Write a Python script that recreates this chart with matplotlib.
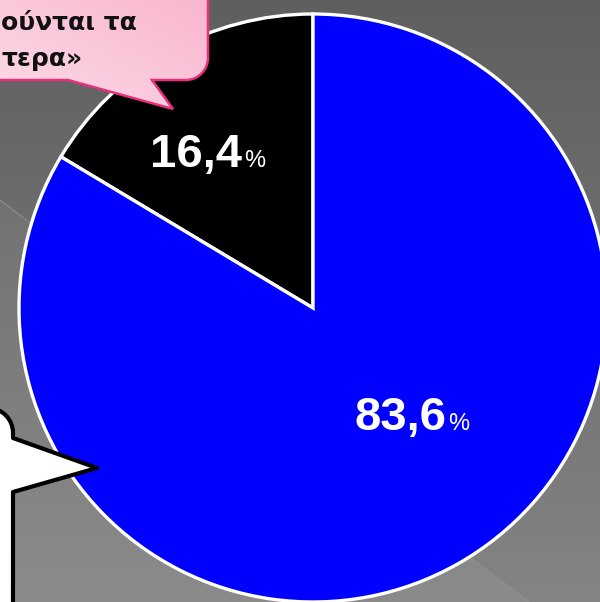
"""Pie chart 83,6 % / 16,4 % on a grey slide background with two callouts."""

import numpy as np
import matplotlib.pyplot as plt
from matplotlib.patches import PathPatch
from matplotlib.path import Path

W, H = 600, 602  # canvas in pixels

shares = [16.4, 83.6]
share_labels = ["16,4", "83,6"]
slice_colors = ["#000000", "#0000ff"]
callout_lines = ["ούνται τα", "τερα»"]

PIE_CENTER = (313, 308)  # pixel coords, y down
PIE_RADIUS = 294
LABEL_POS = [(196, 167), (400, 430)]  # baseline centres of the value labels


def px(x, y):
    """pixel (y down) -> axes data (y up)"""
    return (x, H - y)


def main():
    fig = plt.figure(figsize=(W / 100, H / 100), dpi=100)
    ax = fig.add_axes([0, 0, 1, 1])

    # background: vertical grey gradient, a bit lighter under one diagonal line
    yy, xx = np.mgrid[0:H, 0:W]  # row 0 = top of the picture
    bg = 0x5f + (0x84 - 0x5f) * yy / H
    bg = bg + 7 * (yy > 200 + 0.76 * xx)
    bg = np.clip(bg / 255, 0, 1)
    ax.imshow(np.dstack([bg, bg, bg]), extent=(0, W, 0, H), origin="upper", zorder=0)
    lx = np.array([0, W])
    ax.plot(lx, H - (200 + 0.76 * lx), color="#909090", lw=0.7, zorder=1)

    wedges, _ = ax.pie(
        shares,
        colors=slice_colors,
        startangle=90,
        counterclock=True,
        center=px(*PIE_CENTER),
        radius=PIE_RADIUS,
        wedgeprops=dict(edgecolor="white", linewidth=2.4),
        frame=True,
    )
    for w in wedges:
        w.set_zorder(2)

    for lab, pos in zip(share_labels, LABEL_POS):
        t = ax.text(*px(*pos), lab, color="white", fontsize=34, fontweight="bold",
                    family="Liberation Sans", ha="center", va="baseline", zorder=5)
        ax.annotate("%", xy=(1, 0), xycoords=t, xytext=(1.5, 7.5),
                    textcoords="offset points", color="white", fontsize=17,
                    family="Liberation Sans", va="baseline", ha="left", zorder=5)

    # pink speech bubble, top left
    pink_pts = [(-10, -10), (208, -10), (208, 58), (208, 70), (198, 80), (186, 80),
                (152, 80), (173, 109), (68, 80), (-10, 80), (-10, -10)]
    codes = [Path.MOVETO, Path.LINETO, Path.LINETO, Path.CURVE4, Path.CURVE4,
             Path.CURVE4, Path.LINETO, Path.LINETO, Path.LINETO, Path.LINETO,
             Path.CLOSEPOLY]
    pink_path = Path([px(*p) for p in pink_pts], codes)
    pink = PathPatch(pink_path, facecolor="none", edgecolor="#e8307e", lw=1.8, zorder=7)
    ax.add_patch(pink)
    gy, gx = np.mgrid[0:1:120j, 0:1:220j]
    g = (gx + gy) / 2  # row 0 at bottom (origin lower): 0 bottom-left .. 1 top-right
    c0 = np.array([0xfd, 0xdc, 0xe8]) / 255
    c1 = np.array([0xf8, 0xb4, 0xce]) / 255
    grad = c0 + (c1 - c0) * g[..., None]
    im = ax.imshow(grad, extent=(-10, 210, H - 110, H + 10), origin="lower",
                   zorder=6, aspect="auto")
    im.set_clip_path(pink)

    callout_font = dict(fontsize=18, fontweight="bold",
                        family=["DejaVu Sans"], ha="left", va="baseline",
                        color="#111111", zorder=8)
    ax.text(*px(1, 30), callout_lines[0], **callout_font)
    ax.text(*px(1, 66), callout_lines[1], **callout_font)

    # white speech bubble, bottom left
    white_pts = [(-20, 408), (-12, 408), (2, 408), (13, 419), (13, 433),
                 (13, 438), (97, 468), (13, 492), (13, 620), (-20, 620), (-20, 408)]
    wcodes = [Path.MOVETO, Path.LINETO, Path.CURVE4, Path.CURVE4, Path.CURVE4,
              Path.LINETO, Path.LINETO, Path.LINETO, Path.LINETO, Path.LINETO,
              Path.CLOSEPOLY]
    white = PathPatch(Path([px(*p) for p in white_pts], wcodes), facecolor="white",
                      edgecolor="black", lw=3, joinstyle="round", zorder=7)
    ax.add_patch(white)

    ax.set_xlim(0, W)
    ax.set_ylim(0, H)
    ax.set_aspect("equal")
    ax.axis("off")
    fig.savefig("out.png", dpi=100)


if __name__ == "__main__":
    main()
